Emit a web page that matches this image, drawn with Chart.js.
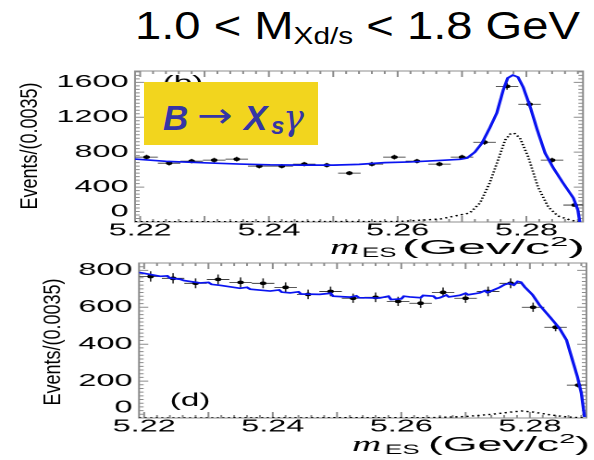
<!DOCTYPE html>
<html>
<head>
<meta charset="utf-8">
<script src="https://cdn.jsdelivr.net/npm/chart.js@4.4.0/dist/chart.umd.min.js"></script>
<style>
  body { margin: 0; background: #fff; width: 594px; height: 460px; overflow: hidden; position: relative;
         font-family: "Liberation Sans", Arial, sans-serif; }
  canvas.panel { position: absolute; left: 0; transform-origin: 0 0; transform: scaleX(1.85); }
  #title { position: absolute; left: 135px; top: 7px; font-size: 38px; line-height: 1; white-space: nowrap;
           transform-origin: 0 0; color: #000; }
  #title .sb { font-size: 24px; position: relative; top: 5px; }
  #tag { position: absolute; left: 144px; top: 82px; width: 174px; height: 63px; background: #f2d51e; z-index: 2;
         color: #3535a5; }
  #tag span { position: absolute; line-height: 1; white-space: nowrap; }
</style>
</head>
<body>
<div id="title">1.0 &lt; M<span class="sb">Xd/s</span> &lt; 1.8 GeV</div>
<canvas id="panelB" class="panel" width="321" height="212" style="top:50px"></canvas>
<canvas id="panelD" class="panel" width="321" height="212" style="top:248px"></canvas>
<div id="tag">
  <span style="left:19px;top:16px;font:bold italic 35px 'Liberation Sans'">B</span>
  <span style="left:53px;top:13px;font:34px 'DejaVu Sans';transform:scaleX(1.25);transform-origin:0 0">→</span>
  <span style="left:100px;top:16px;font:bold italic 35px 'Liberation Sans'">X</span>
  <span style="left:127px;top:30px;font:bold italic 24px 'Liberation Sans'">s</span>
  <span style="left:139px;top:16px;font:italic 35px 'DejaVu Serif'">γ</span>
</div>
<script>
// horizontal stretch of the two plot panels (the original figure is widened)
const S = 1.85;

// mES bins, 0.0035 wide
const binCenters = [5.2210, 5.2245, 5.2280, 5.2315, 5.2350, 5.2385, 5.2420, 5.2455, 5.2490, 5.2525,
                    5.2560, 5.2595, 5.2630, 5.2665, 5.2700, 5.2735, 5.2770, 5.2805, 5.2840, 5.2875];
const binHalfWidth = 0.00175;

// panel (b)
const countsB = [743, 674, 697, 709, 720, 640, 640, 663, 651, 560,
                 663, 743, 697, 663, 743, 914, 1554, 1349, 709, 194];
const errB = [27, 26, 26, 27, 27, 25, 25, 26, 26, 24, 26, 27, 26, 26, 27, 30, 39, 37, 27, 14];
const fitXB = [5.2192, 5.2240, 5.2300, 5.2355, 5.2402, 5.2450, 5.2500, 5.2540, 5.2580, 5.2620,
               5.2666, 5.2697, 5.2708, 5.2720, 5.2731, 5.2743, 5.2754, 5.2764, 5.2771, 5.2779,
               5.2787, 5.2795, 5.2806, 5.2817, 5.2829, 5.2842, 5.2857, 5.2873, 5.2880, 5.2883];
const fitYB = [721, 695, 678, 664, 655, 652, 652, 660, 680, 688,
               705, 718, 733, 801, 904, 1076, 1248, 1511, 1649, 1683,
               1660, 1546, 1317, 1053, 790, 618, 447, 275, 137, 0];
const sigXB = [5.2192, 5.2600, 5.2666, 5.2712, 5.2728, 5.2743, 5.2756, 5.2767, 5.2775, 5.2781,
               5.2790, 5.2803, 5.2818, 5.2834, 5.2849, 5.2868, 5.2883];
const sigYB = [3, 5, 34, 103, 218, 447, 710, 939, 1008, 1019, 962, 744, 401, 172, 69, 23, 0];

// panel (d)
const countsD = [767, 757, 730, 751, 735, 730, 708, 670, 686, 649,
                 654, 632, 622, 681, 649, 686, 730, 600, 492, 178];
const errD = [28, 28, 27, 27, 27, 27, 27, 26, 26, 25, 26, 25, 25, 26, 25, 26, 27, 25, 22, 13];
const fitXD = [5.2192, 5.2225, 5.2236, 5.2240, 5.2256, 5.2262, 5.2287, 5.2300, 5.2305, 5.2318,
               5.2349, 5.2360, 5.2365, 5.2396, 5.2410, 5.2414, 5.2427, 5.2440, 5.2444, 5.2473,
               5.2490, 5.2494, 5.2520, 5.2530, 5.2534, 5.2566, 5.2580, 5.2584, 5.2600, 5.2604,
               5.2613, 5.2630, 5.2634, 5.2650, 5.2654, 5.2660, 5.2670, 5.2674, 5.2691, 5.2700,
               5.2704, 5.2722, 5.2730, 5.2734, 5.2753, 5.2760, 5.2768, 5.2775, 5.2781, 5.2786,
               5.2792, 5.2804, 5.2815, 5.2831, 5.2846, 5.2857, 5.2866, 5.2874, 5.2880, 5.2885];
const fitYD = [789, 768, 770, 758, 752, 745, 732, 735, 724, 719,
               703, 708, 698, 688, 694, 682, 678, 684, 672, 670,
               676, 660, 655, 662, 652, 650, 660, 642, 646, 660,
               656, 652, 664, 660, 648, 652, 666, 656, 665, 676,
               668, 678, 690, 680, 708, 722, 730, 720, 740, 736,
               710, 668, 612, 548, 486, 422, 316, 222, 135, 5];
const sigXD = [5.2192, 5.2650, 5.2700, 5.2740, 5.2770, 5.2787, 5.2805, 5.2830, 5.2857, 5.2885];
const sigYD = [0, 2, 8, 20, 32, 38, 32, 18, 6, 0];

// axes
const xMin = 5.2192, xMax = 5.2888;
const xTickValues = [5.22, 5.24, 5.26, 5.28];
const yTicksB = [0, 400, 800, 1200, 1600];
const yTicksD = [0, 200, 400, 600, 800];

const FONT = '"Liberation Sans", Arial, sans-serif';
const pts = (xs, ys) => xs.map((x, i) => ({ x, y: ys[i] }));

const decoPlugin = {
  id: 'deco',
  beforeDatasetsDraw(chart, args, o) {
    const { ctx, chartArea: a, scales: { x, y } } = chart;
    ctx.save();
    ctx.strokeStyle = '#8c8c8c';
    ctx.lineWidth = 1;
    ctx.strokeRect(a.left, a.top, a.right - a.left, a.bottom - a.top);
    ctx.beginPath();
    const i0 = Math.ceil(x.min / 0.002 - 1e-6), i1 = Math.floor(x.max / 0.002 + 1e-6);
    for (let i = i0; i <= i1; i++) {
      const px = x.getPixelForValue(i * 0.002);
      const len = i % 5 === 0 ? 6 : 3;
      ctx.moveTo(px, a.bottom); ctx.lineTo(px, a.bottom - len);
      ctx.moveTo(px, a.top); ctx.lineTo(px, a.top + len);
    }
    const n = Math.floor(y.max / o.yMinor);
    for (let k = 0; k <= n; k++) {
      const py = y.getPixelForValue(k * o.yMinor);
      const len = k % o.yMajorEvery === 0 ? 5 : 2.5;
      ctx.moveTo(a.left, py); ctx.lineTo(a.left + len, py);
      ctx.moveTo(a.right, py); ctx.lineTo(a.right - len, py);
    }
    ctx.stroke();

    // error bars of the data points
    ctx.beginPath();
    ctx.rect(a.left, a.top, a.right - a.left, a.bottom - a.top);
    ctx.clip();
    ctx.strokeStyle = '#222';
    ctx.lineWidth = 0.8;
    ctx.beginPath();
    binCenters.forEach((c, i) => {
      const px = x.getPixelForValue(c);
      const py = y.getPixelForValue(o.counts[i]);
      ctx.moveTo(x.getPixelForValue(c - binHalfWidth), py);
      ctx.lineTo(x.getPixelForValue(c + binHalfWidth), py);
      ctx.moveTo(px, y.getPixelForValue(o.counts[i] - o.errs[i]));
      ctx.lineTo(px, y.getPixelForValue(o.counts[i] + o.errs[i]));
    });
    ctx.stroke();
    ctx.restore();
  },
  afterDraw(chart, args, o) {
    const ctx = chart.ctx;
    ctx.save();
    ctx.fillStyle = '#000';

    // panel letter
    ctx.font = '18px ' + FONT;
    ctx.textAlign = 'center';
    ctx.textBaseline = 'middle';
    ctx.fillText(o.tag, o.tagX, o.tagY);

    // y title (narrower than the stretched tick labels)
    ctx.save();
    ctx.translate(o.yTitleX, o.yTitleY);
    ctx.scale(0.735, 1);
    ctx.rotate(-Math.PI / 2);
    ctx.font = '18px ' + FONT;
    ctx.fillText('Events/(0.0035)', 0, 0);
    ctx.restore();

    // x title: m_ES (Gev/c^2)
    ctx.textAlign = 'left';
    ctx.textBaseline = 'alphabetic';
    ctx.font = 'italic 22px "Liberation Serif", serif';
    ctx.fillText('m', o.mX, o.xBase);
    ctx.font = '14px ' + FONT;
    ctx.fillText('ES', o.esX, o.xBase + 3);
    ctx.font = '20px ' + FONT;
    const w1 = ctx.measureText('(Gev/c').width, w3 = ctx.measureText(')').width;
    ctx.font = '13px ' + FONT;
    const w2 = ctx.measureText('2').width;
    const k = (o.unitEnd - o.unitX) / (w1 + w2 + w3);
    ctx.translate(o.unitX, o.xBase);
    ctx.scale(k, 1);
    ctx.font = '20px ' + FONT;
    ctx.fillText('(Gev/c', 0, 0);
    ctx.fillText(')', w1 + w2, 0);
    ctx.font = '13px ' + FONT;
    ctx.fillText('2', w1, -8);
    ctx.restore();
  }
};

function makePanel(id, p) {
  return new Chart(document.getElementById(id), {
    type: 'line',
    data: {
      datasets: [
        { data: pts(p.fitX, p.fitY), borderColor: '#0a14f0', borderWidth: 1.7, pointRadius: 0, tension: 0 },
        { data: pts(p.sigX, p.sigY), borderColor: '#000', borderWidth: 1.4, borderDash: [1.2, 1.8],
          pointRadius: 0, tension: 0 },
        { data: pts(binCenters, p.counts), showLine: false, pointRadius: 1.8, pointBorderWidth: 0,
          pointBackgroundColor: '#000', pointBorderColor: '#000' }
      ]
    },
    options: {
      responsive: false,
      animation: false,
      devicePixelRatio: 2,
      layout: { padding: { left: 0, right: p.padRight, top: p.padTop, bottom: 0 } },
      plugins: {
        legend: { display: false },
        tooltip: { enabled: false },
        deco: p.deco
      },
      scales: {
        x: {
          type: 'linear', min: xMin, max: xMax,
          afterBuildTicks: s => { s.ticks = xTickValues.map(v => ({ value: v })); },
          afterFit: s => { s.height = p.xAxisH; },
          grid: { display: false, drawTicks: false },
          border: { display: false },
          ticks: { color: '#000', font: { family: FONT, size: 17.5 }, padding: -2, maxRotation: 0,
                   autoSkip: false, callback: v => v.toFixed(2) }
        },
        y: {
          min: 0, max: p.yMax,
          afterBuildTicks: s => { s.ticks = p.yTicks.map(v => ({ value: v })); },
          afterFit: s => { s.width = p.yAxisW; },
          grid: { display: false, drawTicks: false },
          border: { display: false },
          ticks: { color: '#000', font: { family: FONT, size: 17.5 }, padding: 3.5, autoSkip: false,
                   callback: v => (v === 0 ? ['0', ''] : String(v)) }
        }
      }
    },
    plugins: [decoPlugin]
  });
}

makePanel('panelB', {
  fitX: fitXB, fitY: fitYB, sigX: sigXB, sigY: sigYB, counts: countsB,
  yMax: 1730, yTicks: yTicksB,
  padTop: 21, padRight: 321 - 583 / S, yAxisW: 135 / S, xAxisH: 40,
  deco: { counts: countsB, errs: errB, yMinor: 40, yMajorEvery: 10,
          tag: '(b)', tagX: 183 / S, tagY: 33.5, yTitleX: 30 / S, yTitleY: 96,
          mX: 330 / S, esX: 362 / S, unitX: 402 / S, unitEnd: 585 / S, xBase: 204 }
});

makePanel('panelD', {
  fitX: fitXD, fitY: fitYD, sigX: sigXD, sigY: sigYD, counts: countsD,
  yMax: 840, yTicks: yTicksD,
  padTop: 15, padRight: 321 - 587 / S, yAxisW: 139 / S, xAxisH: 42,
  deco: { counts: countsD, errs: errD, yMinor: 20, yMajorEvery: 10,
          tag: '(d)', tagX: 190 / S, tagY: 153, yTitleX: 53 / S, yTitleY: 94,
          mX: 352 / S, esX: 385 / S, unitX: 428 / S, unitEnd: 590 / S, xBase: 203 }
});

// widen the title to the span it has in the original
const title = document.getElementById('title');
title.style.transform = 'scaleX(' + (445 / title.getBoundingClientRect().width) + ')';
</script>
</body>
</html>
